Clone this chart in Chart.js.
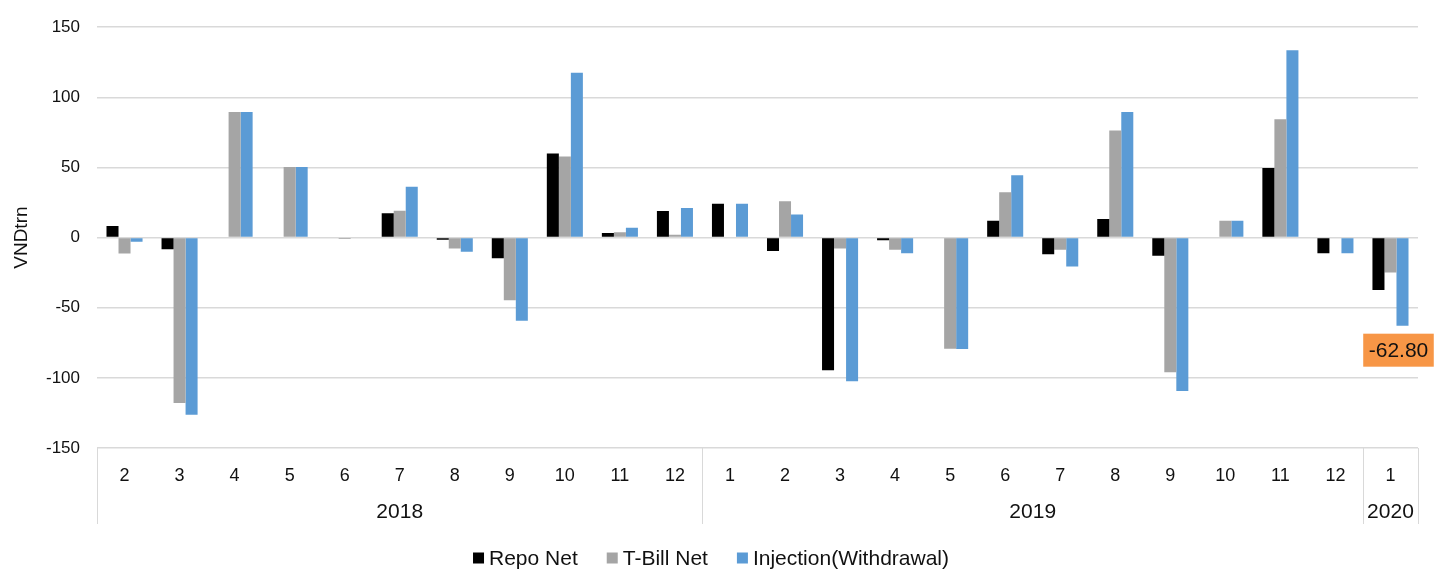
<!DOCTYPE html>
<html>
<head>
<meta charset="utf-8">
<script src="https://cdn.jsdelivr.net/npm/chart.js@4.4.1/dist/chart.umd.min.js"></script>
<style>
  html, body { margin: 0; padding: 0; background: #fff; }
  #wrap { width: 1434px; height: 569px; position: relative; }
</style>
</head>
<body>
<div id="wrap"><canvas id="c" width="1434" height="569"></canvas></div>
<script>
// ---- Data ----
const months = ['2','3','4','5','6','7','8','9','10','11','12',
                '1','2','3','4','5','6','7','8','9','10','11','12',
                '1'];
const yearLabels = ['2018', '2019', '2020'];
const yearSpans = [11, 12, 1];
const repoNet = [8.3, -8.3, 0, 0, 0, 17.3, -1.6, -14.7, 60, 3.3, 19,
                 24.2, -9.5, -94.6, -1.9, 0, 12.1, -11.9, 13.3, -13, 0, 49.6, -11.1,
                 -37.4];
const tbillNet = [-11.4, -118, 89.5, 50.3, -1, 19.2, -7.8, -44.6, 57.9, 3.8, 2.1,
                  0, 25.9, -7.8, -8.7, -79.2, 32.3, -8.7, 76.4, -96, 12.1, 84.4, 0,
                  -24.9];
const injection = [-3, -126.3, 89.5, 50.3, -0.5, 36.3, -10, -59.3, 117.6, 7.1, 21.1,
                   24.2, 16.4, -102.4, -11.1, -79.4, 44.4, -20.6, 89.6, -109.3, 12.1, 133.5, -11.1,
                   -62.8];
const yTicks = [150, 100, 50, 0, -50, -100, -150];
const calloutIndex = 23;
const calloutText = '-62.80';

const FONT = "'Liberation Sans', Arial, sans-serif";
const TEXT = '#111111';

const yearPlugin = {
  id: 'yearGroups',
  afterDraw(chart) {
    const ctx = chart.ctx;
    const xs = chart.scales.x;
    const area = chart.chartArea;
    const half = (xs.getPixelForValue(1) - xs.getPixelForValue(0)) / 2;
    const lineBottom = area.bottom + 76;
    ctx.save();
    ctx.strokeStyle = '#d9d9d9';
    ctx.lineWidth = 1;
    let start = 0;
    const bounds = [xs.getPixelForValue(0) - half];
    yearSpans.forEach(n => { start += n; bounds.push(xs.getPixelForValue(start - 1) + half); });
    bounds.forEach(b => {
      ctx.beginPath();
      ctx.moveTo(Math.round(b) + 0.5, area.bottom);
      ctx.lineTo(Math.round(b) + 0.5, lineBottom);
      ctx.stroke();
    });
    ctx.fillStyle = TEXT;
    ctx.font = '21px ' + FONT;
    ctx.textAlign = 'center';
    ctx.textBaseline = 'middle';
    yearLabels.forEach((lab, i) => {
      ctx.fillText(lab, (bounds[i] + bounds[i + 1]) / 2, area.bottom + 64);
    });

    // callout label
    const el = chart.getDatasetMeta(2).data[calloutIndex];
    if (el) {
      ctx.font = '21px ' + FONT;
      const w = ctx.measureText(calloutText).width + 11;
      const h = 33;
      const cx = el.x - 4;
      const top = el.y + 8;
      ctx.fillStyle = '#F79646';
      ctx.fillRect(cx - w / 2, top, w, h);
      ctx.fillStyle = TEXT;
      ctx.fillText(calloutText, cx, top + h / 2 + 1);
    }

    // legend
    ctx.font = '21px ' + FONT;
    ctx.textAlign = 'left';
    const box = 11, gapBT = 5, gapItems = 29;
    const items = chart.data.datasets.map(d => ({ text: d.label, color: d.backgroundColor, w: ctx.measureText(d.label).width }));
    const total = items.reduce((s, it) => s + box + gapBT + it.w, 0) + gapItems * (items.length - 1);
    let x = chart.width / 2 - 6 - total / 2;
    const cy = 558;
    items.forEach(it => {
      ctx.fillStyle = it.color;
      ctx.fillRect(x, cy - box / 2, box, box);
      x += box + gapBT;
      ctx.fillStyle = TEXT;
      ctx.fillText(it.text, x, cy + 1);
      x += it.w + gapItems;
    });
    ctx.restore();
  }
};

new Chart(document.getElementById('c'), {
  type: 'bar',
  data: {
    labels: months,
    datasets: [
      { label: 'Repo Net', data: repoNet, backgroundColor: '#000000', borderWidth: 0 },
      { label: 'T-Bill Net', data: tbillNet, backgroundColor: '#A5A5A5', borderWidth: 0 },
      { label: 'Injection(Withdrawal)', data: injection, backgroundColor: '#5B9BD5', borderWidth: 0 }
    ]
  },
  options: {
    responsive: false,
    animation: false,
    devicePixelRatio: 1,
    categoryPercentage: 0.655,
    barPercentage: 1,
    layout: { padding: { top: 25, right: 16, left: 10, bottom: 41 } },
    plugins: {
      tooltip: { enabled: false },
      legend: { display: false }
    },
    scales: {
      x: {
        grid: { display: false, drawTicks: false },
        border: { display: false },
        ticks: { color: TEXT, font: { size: 18, family: FONT }, padding: 17, maxRotation: 0, autoSkip: false },
        afterFit(scale) { scale.height = 80; }
      },
      y: {
        min: -150, max: 150,
        afterBuildTicks(scale) { scale.ticks = yTicks.map(v => ({ value: v })); },
        grid: { color: '#d9d9d9', lineWidth: 1.5, drawTicks: false },
        border: { display: false },
        ticks: { color: TEXT, font: { size: 17, family: FONT }, padding: 17 },
        title: { display: true, text: 'VNDtrn', color: TEXT, font: { size: 19, family: FONT }, padding: 0 },
        afterFit(scale) { scale.width = 87; }
      }
    }
  },
  plugins: [yearPlugin]
});
</script>
</body>
</html>
